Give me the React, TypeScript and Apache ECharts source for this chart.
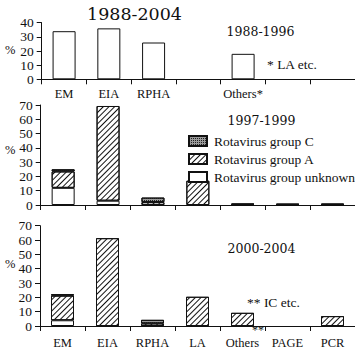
import React, { useEffect, useRef } from "react";
import * as echarts from "echarts";

const categories = ["EM", "EIA", "RPHA", "LA", "Others", "PAGE", "PCR"];
const p1Labels = ["EM", "EIA", "RPHA", "", "Others*", "", ""];
const p3Labels = ["EM", "EIA", "RPHA", "LA", "Others", "PAGE", "PCR"];
const p1Values = [34, 36, 26, 0, 18, 0, 0];
const p2Unknown = [12, 3, 0, 0, 0, 0, 0];
const p2A = [11.5, 66.3, 2, 17, 0.4, 0.3, 0.3];
const p2C = [1.5, 0, 3.2, 0, 0.5, 0.5, 0.6];
const p3Unknown = [4, 0, 0, 0, 0, 0, 0];
const p3A = [17.2, 61.3, 1.8, 20.4, 9.2, 0, 6.9];
const p3C = [1, 0, 2.5, 0, 0, 0, 0];
const legendNames = ["Rotavirus group C", "Rotavirus group A", "Rotavirus group unknown"];

const SERIF = "'Liberation Serif', 'Times New Roman', serif";
const TITLE = "'DejaVu Serif', serif";
const INK = "#111";

const nz = (a: number[]) => a.map((v) => (v === 0 ? null : v));

const hatch = {
  symbol: "rect",
  symbolSize: 1,
  dashArrayX: [1, 0],
  dashArrayY: [1, 3],
  rotation: -Math.PI / 4,
  color: INK,
  backgroundColor: "#fff",
};
const stipple = {
  symbol: "rect",
  symbolSize: 1,
  dashArrayX: [1, 1],
  dashArrayY: [1, 1],
  rotation: 0,
  color: "#222",
  backgroundColor: "#9a9a9a",
};

export default function App() {
  const ref = useRef<HTMLDivElement>(null);
  useEffect(() => {
    if (!ref.current) return;
    const chart = echarts.init(ref.current, null, { renderer: "svg" });
    const grids = [
      { left: 41.7, top: 22.7, height: 56.6, width: 45.67 * 7 },
      { left: 40.7, top: 105, height: 100, width: 45.45 * 7 },
      { left: 40, top: 225.7, height: 101.6, width: 45.4 * 7 },
    ];
    const axisLine = { show: true, lineStyle: { color: INK, width: 1 } };
    const xAxes = grids.map((_, i) => ({
      type: "category",
      gridIndex: i,
      data: categories,
      axisLine,
      axisTick: { show: true, length: 5, lineStyle: { color: INK } },
      axisLabel: {
        show: i !== 1,
        interval: 0,
        margin: i === 0 ? 8 : 10,
        fontFamily: SERIF,
        fontSize: 12.5,
        color: INK,
        formatter: (_v: string, idx: number) => (i === 0 ? p1Labels[idx] : p3Labels[idx]),
      },
    }));
    const yAxes = grids.map((_, i) => ({
      type: "value",
      gridIndex: i,
      min: 0,
      max: i === 0 ? 40 : 70,
      interval: 10,
      axisLine,
      axisTick: { show: true, length: 5, lineStyle: { color: INK } },
      splitLine: { show: false },
      axisLabel: { margin: 8, fontFamily: SERIF, fontSize: 13.5, color: INK },
    }));
    const border = { borderColor: INK, borderWidth: 1 };
    const stackSeries = (idx: number, unk: number[], a: number[], c: number[]) => [
      {
        name: "Rotavirus group unknown",
        type: "bar",
        xAxisIndex: idx,
        yAxisIndex: idx,
        stack: "p" + idx,
        barWidth: 23,
        data: nz(unk),
        itemStyle: { color: "#fff", ...border },
      },
      {
        name: "Rotavirus group A",
        type: "bar",
        xAxisIndex: idx,
        yAxisIndex: idx,
        stack: "p" + idx,
        barWidth: 23,
        data: nz(a),
        itemStyle: { color: "#fff", decal: hatch, ...border },
      },
      {
        name: "Rotavirus group C",
        type: "bar",
        xAxisIndex: idx,
        yAxisIndex: idx,
        stack: "p" + idx,
        barWidth: 23,
        data: nz(c),
        itemStyle: { color: "#9a9a9a", decal: stipple, ...border },
      },
    ];
    const txt = (text: string, x: number, y: number, size: number, font: string, align = "center") => ({
      type: "text",
      x,
      y,
      style: { text, fontSize: size, fontFamily: font, fill: INK, align, verticalAlign: "middle" },
    });
    chart.setOption({
      animation: false,
      grid: grids,
      xAxis: xAxes,
      yAxis: yAxes,
      legend: {
        data: legendNames.map((n) => ({ name: n, icon: "rect" })),
        orient: "vertical",
        left: 183,
        top: 129,
        itemWidth: 18,
        itemHeight: 10,
        itemGap: 4,
        selectedMode: false,
        textStyle: { fontFamily: SERIF, fontSize: 13.5, color: INK, padding: [0, 0, 0, 2] },
      },
      series: [
        {
          name: "Total",
          type: "bar",
          xAxisIndex: 0,
          yAxisIndex: 0,
          barWidth: 23,
          data: nz(p1Values),
          itemStyle: { color: "#fff", ...border },
        },
        ...stackSeries(1, p2Unknown, p2A, p2C),
        ...stackSeries(2, p3Unknown, p3A, p3C),
      ],
      graphic: [
        txt("1988-2004", 134.5, 14, 17.5, TITLE),
        txt("1988-1996", 260.5, 31.5, 12.5, TITLE),
        txt("1997-1999", 261.5, 120.5, 12.5, TITLE),
        txt("2000-2004", 261.5, 248, 12.5, TITLE),
        txt("* LA etc.", 267, 64, 13.5, SERIF, "left"),
        txt("** IC etc.", 247, 302, 13.5, SERIF, "left"),
        txt("**", 252, 330, 12, SERIF, "left"),
        txt("%", 5, 50, 12.5, SERIF, "left"),
        txt("%", 5, 150, 12.5, SERIF, "left"),
        txt("%", 5, 264, 12.5, SERIF, "left"),
      ],
    });
    return () => chart.dispose();
  }, []);
  return (
    <div
      ref={ref}
      style={{ position: "absolute", left: 0, top: 0, width: 355, height: 349, background: "#fff" }}
    />
  );
}
